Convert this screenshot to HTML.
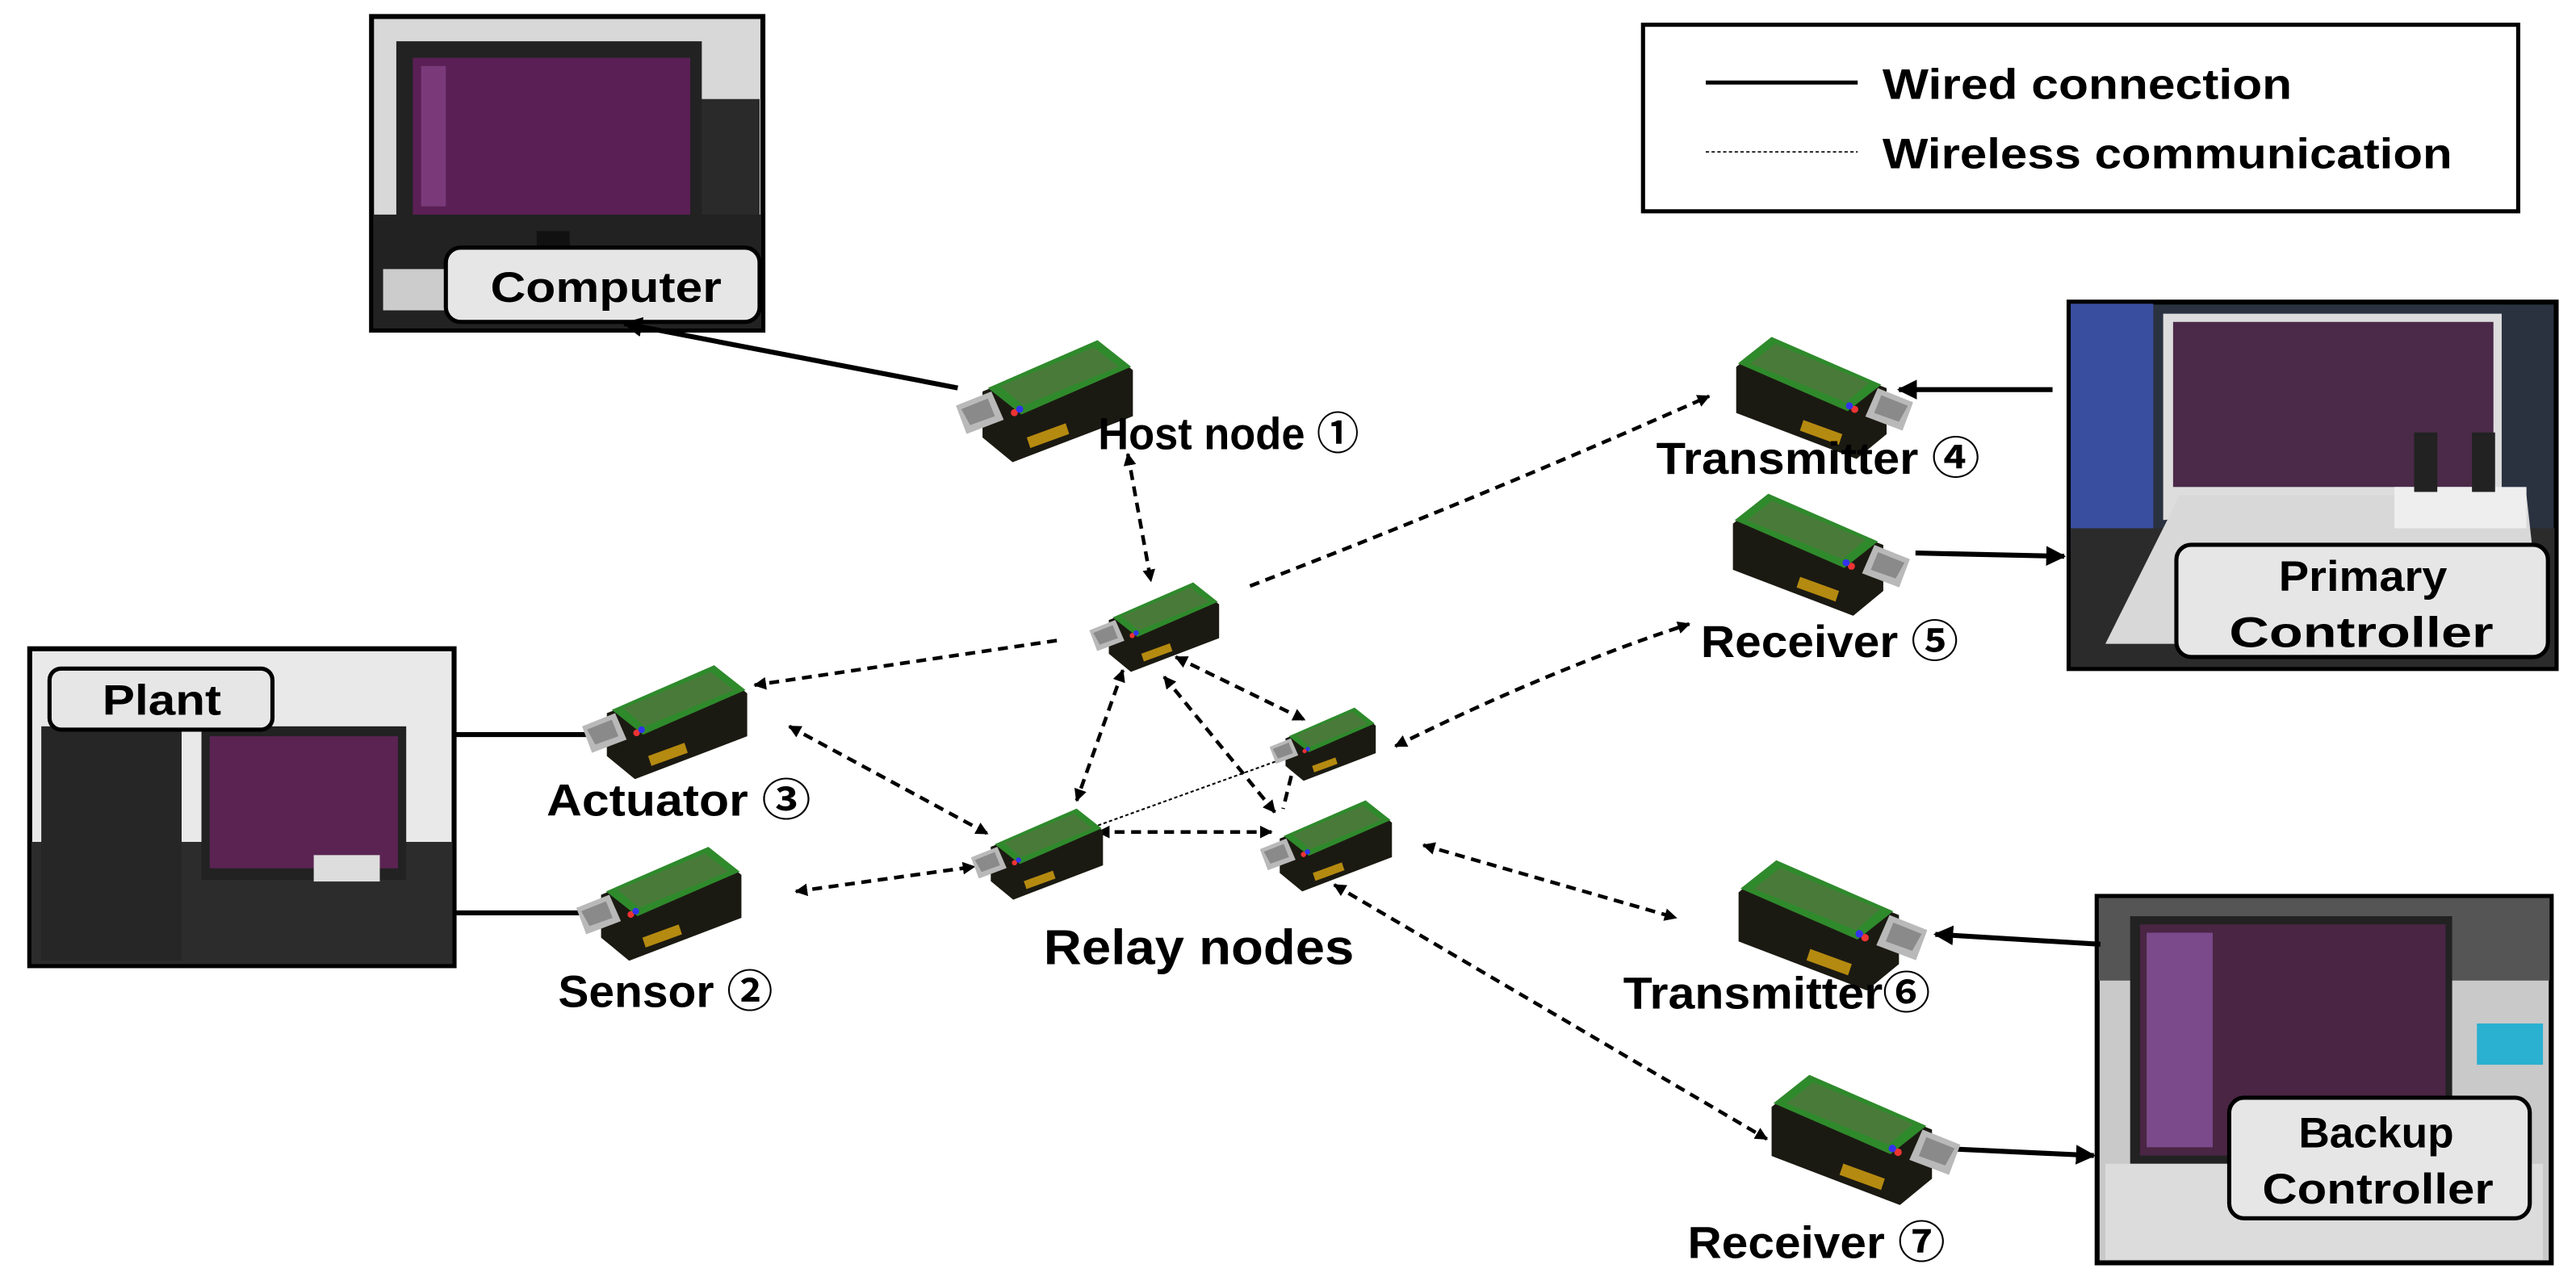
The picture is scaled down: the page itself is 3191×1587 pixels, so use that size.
<!DOCTYPE html>
<html><head><meta charset="utf-8"><style>
html,body{margin:0;padding:0;background:#fff;}
svg{display:block;}
text{font-family:"Liberation Sans","Noto Sans CJK KR",sans-serif;font-weight:bold;fill:#000;}
</style></head><body>
<svg width="3191" height="1587" viewBox="0 0 1560 776" preserveAspectRatio="none" xmlns="http://www.w3.org/2000/svg">
<defs>
<marker id="ah" viewBox="0 0 10 10" refX="9" refY="5" markerWidth="4" markerHeight="4" orient="auto-start-reverse"><path d="M0,0 L10,5 L0,10 z" fill="#000"/></marker>
<marker id="ahs" viewBox="0 0 10 10" refX="9" refY="5" markerWidth="3.5" markerHeight="3.5" orient="auto-start-reverse"><path d="M0,0 L10,5 L0,10 z" fill="#000"/></marker>
<symbol id="brd" viewBox="0 0 100 70">
<polygon points="15,30 82,3 100,18 100,44 32,70 15,56" fill="#1b1a12"/>
<polygon points="40,56 62,48 64,54 42,62" fill="#b58a10"/>
<polygon points="18,28 80,1 99,16 37,43" fill="#2f8a2c"/>
<polygon points="25,27 78,5 92,16 38,38" fill="#4a7a3a"/>
<polygon points="0,38 20,30 27,46 6,54" fill="#b9b9b9"/>
<polygon points="3,40 18,34 22,44 8,49" fill="#8a8a8a"/>
<circle cx="33" cy="42" r="2" fill="#e33"/><circle cx="36" cy="40" r="2" fill="#33e"/>
</symbol>
</defs>

<rect x="995" y="15" width="530" height="113" fill="#fff" stroke="#000" stroke-width="2.5"/>
<line x1="1033" y1="50" x2="1125" y2="50" stroke="#000" stroke-width="2.5"/>
<line x1="1033" y1="92" x2="1125" y2="92" stroke="#000" stroke-width="0.8" stroke-dasharray="2,1.5"/>
<text x="1140" y="60" font-size="26" textLength="248" lengthAdjust="spacingAndGlyphs">Wired connection</text>
<text x="1140" y="102" font-size="26" textLength="345" lengthAdjust="spacingAndGlyphs">Wireless communication</text>

<g>
<rect x="225" y="10" width="237" height="190" fill="#d8d8d8" stroke="#000" stroke-width="3"/>
<rect x="400" y="60" width="60" height="130" fill="#2a2a2a"/>
<rect x="226" y="130" width="235" height="69" fill="#222"/>
<rect x="240" y="25" width="185" height="115" fill="#222"/>
<rect x="250" y="35" width="168" height="95" fill="#5a1f55"/>
<rect x="255" y="40" width="15" height="85" fill="#7a3a7a"/>
<rect x="325" y="140" width="20" height="15" fill="#111"/>
<rect x="232" y="163" width="50" height="25" fill="#ccc"/>
<rect x="270" y="150" width="190" height="45" rx="9" fill="#e6e6e6" stroke="#000" stroke-width="2.5"/>
<text x="297" y="183" font-size="26" textLength="140" lengthAdjust="spacingAndGlyphs">Computer</text>
</g>

<g>
<rect x="18" y="393" width="257" height="192" fill="#e9e9ea" stroke="#000" stroke-width="3"/>
<rect x="19" y="510" width="255" height="74" fill="#2c2c2c"/>
<rect x="25" y="440" width="85" height="142" fill="#262626"/>
<rect x="122" y="440" width="124" height="93" fill="#222"/>
<rect x="127" y="446" width="114" height="80" fill="#5a2352"/>
<rect x="190" y="518" width="40" height="16" fill="#ddd"/>
<rect x="30" y="405" width="135" height="37" rx="7" fill="#e6e6e6" stroke="#000" stroke-width="2.5"/>
<text x="62" y="433" font-size="26" textLength="72" lengthAdjust="spacingAndGlyphs">Plant</text>
</g>

<g>
<rect x="1253" y="183" width="295" height="222" fill="#2a3240" stroke="#000" stroke-width="3"/>
<rect x="1254" y="184" width="50" height="150" fill="#3a4ea0"/>
<rect x="1254" y="320" width="293" height="84" fill="#2b2b2b"/>
<polygon points="1310,190 1515,190 1515,300 1310,315" fill="#ddd"/>
<rect x="1316" y="195" width="194" height="100" fill="#4a2a48"/>
<polygon points="1275,390 1320,300 1530,300 1540,390" fill="#d8d8d8"/>
<rect x="1450" y="295" width="80" height="25" fill="#eee"/>
<rect x="1462" y="262" width="14" height="36" fill="#222"/>
<rect x="1497" y="262" width="14" height="36" fill="#222"/>
<rect x="1318" y="330" width="225" height="68" rx="9" fill="#e6e6e6" stroke="#000" stroke-width="2.5"/>
<text x="1380" y="358" font-size="26" textLength="102" lengthAdjust="spacingAndGlyphs">Primary</text>
<text x="1350" y="392" font-size="26" textLength="160" lengthAdjust="spacingAndGlyphs">Controller</text>
</g>

<g>
<rect x="1270" y="543" width="275" height="222" fill="#c9c9c9" stroke="#000" stroke-width="3"/>
<rect x="1271" y="544" width="273" height="50" fill="#555"/>
<rect x="1290" y="555" width="195" height="150" fill="#222"/>
<rect x="1296" y="560" width="185" height="140" fill="#4a2544"/>
<rect x="1300" y="565" width="40" height="130" fill="#7a4a8a"/>
<rect x="1500" y="620" width="40" height="25" fill="#2ab0d0"/>
<rect x="1275" y="705" width="265" height="58" fill="#dcdcdc"/>
<rect x="1350" y="665" width="182" height="73" rx="9" fill="#e6e6e6" stroke="#000" stroke-width="2.5"/>
<text x="1392" y="695" font-size="26" textLength="94" lengthAdjust="spacingAndGlyphs">Backup</text>
<text x="1370" y="729" font-size="26" textLength="140" lengthAdjust="spacingAndGlyphs">Controller</text>
</g>

<g stroke="#000" stroke-width="3" fill="none">
<line x1="580" y1="235" x2="378" y2="196" marker-end="url(#ah)"/>
<line x1="275" y1="445" x2="360" y2="445"/>
<line x1="275" y1="553" x2="360" y2="553"/>
<line x1="1243" y1="236" x2="1150" y2="236" marker-end="url(#ah)"/>
<line x1="1160" y1="335" x2="1250" y2="337" marker-end="url(#ah)"/>
<line x1="1160" y1="695" x2="1268" y2="700" marker-end="url(#ah)"/>
</g>

<g stroke="#000" stroke-width="2.2" fill="none" stroke-dasharray="6,4">
<line x1="683" y1="275" x2="697" y2="352" marker-start="url(#ahs)" marker-end="url(#ahs)"/>
<path d="M757,355 Q900,300 1035,240" marker-end="url(#ahs)"/>
<line x1="640" y1="388" x2="457" y2="415" marker-end="url(#ahs)"/>
<line x1="478" y1="440" x2="598" y2="505" marker-start="url(#ahs)" marker-end="url(#ahs)"/>
<line x1="482" y1="540" x2="590" y2="525" marker-start="url(#ahs)" marker-end="url(#ahs)"/>
<line x1="680" y1="406" x2="652" y2="485" marker-start="url(#ahs)" marker-end="url(#ahs)"/>
<line x1="712" y1="398" x2="790" y2="436" marker-start="url(#ahs)" marker-end="url(#ahs)"/>
<line x1="705" y1="410" x2="772" y2="492" marker-start="url(#ahs)" marker-end="url(#ahs)"/>
<path d="M845,452 Q940,405 1023,378" marker-start="url(#ahs)" marker-end="url(#ahs)"/>
<line x1="665" y1="504" x2="770" y2="504" marker-start="url(#ahs)" marker-end="url(#ahs)"/>
<line x1="782" y1="470" x2="777" y2="490"/>
<line x1="862" y1="512" x2="1015" y2="556" marker-start="url(#ahs)" marker-end="url(#ahs)"/>
<line x1="808" y1="536" x2="1070" y2="690" marker-start="url(#ahs)" marker-end="url(#ahs)"/>
</g>
<line x1="665" y1="500" x2="790" y2="455" stroke="#000" stroke-width="1" stroke-dasharray="2,1.5"/>

<use href="#brd" x="570" y="205" width="125" height="75"/>
<use href="#brd" x="655" y="352" width="88" height="55"/>
<use href="#brd" x="767" y="428" width="68" height="45"/>
<use href="#brd" x="588" y="487" width="80" height="60"/>
<use href="#brd" x="763" y="483" width="80" height="58"/>
<use href="#brd" x="345" y="402" width="115" height="70"/>
<use href="#brd" x="345" y="512" width="108" height="70"/>
<g transform="translate(2210,0) scale(-1,1)">
<use href="#brd" x="1040" y="203" width="130" height="75"/>
<use href="#brd" x="1043" y="298" width="128" height="75"/>
<use href="#brd" x="1035" y="520" width="130" height="80"/>
</g>
<g transform="translate(2260,0) scale(-1,1)">
<use href="#brd" x="1070" y="650" width="120" height="80"/>
</g>
<line x1="1272" y1="572" x2="1172" y2="566" stroke="#000" stroke-width="3" marker-end="url(#ah)"/>

<text x="665" y="272" font-size="27" textLength="158" lengthAdjust="spacingAndGlyphs">Host node ①</text>
<text x="331" y="494" font-size="27" textLength="160" lengthAdjust="spacingAndGlyphs">Actuator ③</text>
<text x="338" y="610" font-size="27" textLength="130" lengthAdjust="spacingAndGlyphs">Sensor ②</text>
<text x="632" y="584" font-size="30" textLength="188" lengthAdjust="spacingAndGlyphs">Relay nodes</text>
<text x="1003" y="287" font-size="27" textLength="196" lengthAdjust="spacingAndGlyphs">Transmitter ④</text>
<text x="1030" y="398" font-size="27" textLength="156" lengthAdjust="spacingAndGlyphs">Receiver ⑤</text>
<text x="983" y="611" font-size="27" textLength="186" lengthAdjust="spacingAndGlyphs">Transmitter⑥</text>
<text x="1022" y="762" font-size="27" textLength="156" lengthAdjust="spacingAndGlyphs">Receiver ⑦</text>
</svg>
</body></html>
